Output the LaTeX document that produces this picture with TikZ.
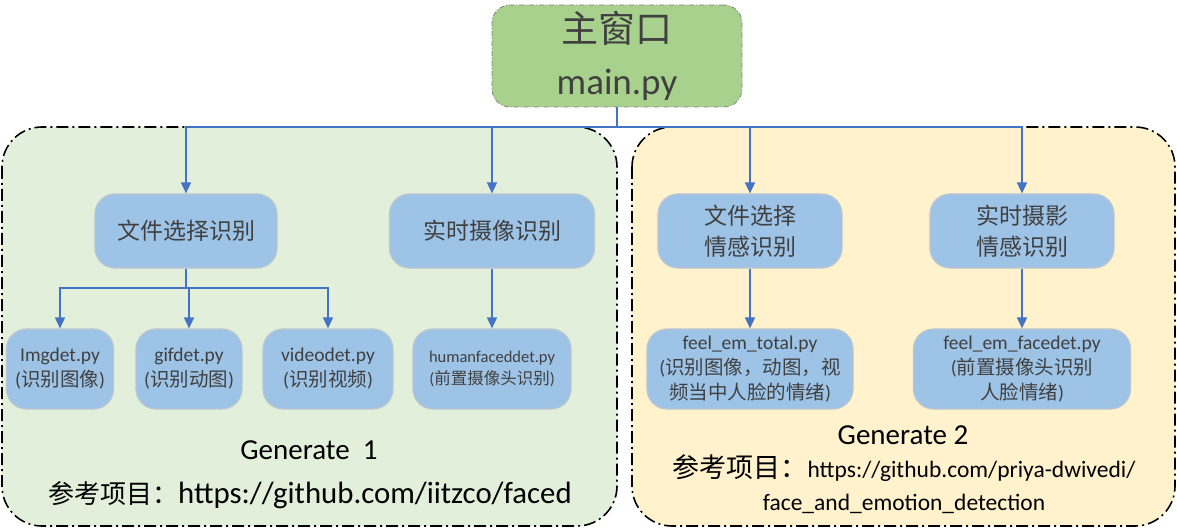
\documentclass[tikz,border=0pt]{standalone}
\usepackage{fontspec}
\setmainfont{Carlito}
\newfontfamily\cjk{Noto Sans CJK SC}
\usetikzlibrary{arrows.meta}
\definecolor{mainfill}{HTML}{A9D18E}
\definecolor{leftfill}{HTML}{E2EFDA}
\definecolor{rightfill}{HTML}{FFF2CC}
\definecolor{boxblue}{HTML}{9DC3E6}
\definecolor{boxedge}{HTML}{BCC6CF}
\definecolor{lineblue}{HTML}{4472C4}
\definecolor{textgray}{HTML}{404040}
\newcommand\zh[1]{{\cjk #1}}
\newcommand\fs[2]{\fontsize{#1}{#2}\selectfont}

\begin{document}
\begin{tikzpicture}[x=1pt,y=-1pt,
    bigbox/.style={line width=1.6pt,dash pattern=on 12pt off 4pt on 2pt off 4pt,rounded corners=40pt},
    mainbox/.style={fill=mainfill,draw=gray,line width=0.8pt,dash pattern=on 5pt off 2pt on 1pt off 2pt,
      rounded corners=18pt,text=textgray,align=center,inner sep=0pt},
    task/.style={fill=boxblue,draw=boxedge,line width=1.2pt,rounded corners=20pt,text=textgray,
      align=center,inner sep=0pt,minimum height=74pt,font=\fs{23}{31}},
    script/.style={task,minimum height=80pt,font=\fs{19.5}{25}},
    flow/.style={draw=lineblue,line width=1.6pt,-{Triangle[length=11pt,width=10pt]}}]
  \useasboundingbox (0,0) rectangle (1177,529);
  \draw[bigbox,fill=leftfill] (2,127) rectangle (617,526);
  \draw[bigbox,fill=rightfill] (632,127) rectangle (1175,526);
  \node[mainbox,minimum width=250pt,minimum height=102pt,font=\fs{37}{52}] (main) at (617,56)
    {\zh{主窗口}\\main.py};
  \node[task,minimum width=182pt] (pick1) at (186,231) {\zh{文件选择识别}};
  \node[task,minimum width=205pt] (cam1) at (492,231) {\zh{实时摄像识别}};
  \node[task,minimum width=184pt] (pick2) at (750,231) {\zh{文件选择}\\\zh{情感识别}};
  \node[task,minimum width=184pt] (cam2) at (1022,231) {\zh{实时摄影}\\\zh{情感识别}};
  \node[script,minimum width=107pt] (img) at (60,369) {Imgdet.py\\(\zh{识别图像})};
  \node[script,minimum width=106pt] (gif) at (189,369) {gifdet.py\\(\zh{识别动图})};
  \node[script,minimum width=130pt] (video) at (328,369) {videodet.py\\(\zh{识别视频})};
  \node[script,minimum width=158pt,font=\fs{16.5}{22}] (human) at (492,369)
    {humanfaceddet.py\\(\zh{前置摄像头识别})};
  \node[script,minimum width=206pt] (total) at (750,369)
    {feel\_em\_total.py\\(\zh{识别图像，动图，视}\\\zh{频当中人脸的情绪})};
  \node[script,minimum width=217pt] (facedet) at (1022,369)
    {feel\_em\_facedet.py\\(\zh{前置摄像头识别}\\\zh{人脸情绪})};
  % project notes
  \node[anchor=base,font=\fs{29}{35}] (gen1) at (309,459) {Generate\ \ 1};
  \node[anchor=base,font=\fs{30.8}{36}] (ref1) at (310,503)
    {\zh{\fs{26}{36}参考项目：}https://github.com/iitzco/faced};
  \node[anchor=base,font=\fs{29}{35}] (gen2) at (903,444) {Generate 2};
  \node[anchor=base,font=\fs{23.5}{30}] (ref2) at (904,477)
    {\zh{\fs{27}{30}参考项目：}https://github.com/priya-dwivedi/};
  \node[anchor=base,font=\fs{23.5}{30}] (ref3) at (904,510) {face\_and\_emotion\_detection};
  % connectors
  \coordinate (bus) at (617,127);
  \coordinate (fork) at (186,288);
  \draw[flow] (main.south) -- (bus) -| (pick1.north);
  \draw[flow] (main.south) -- (bus) -| (cam1.north);
  \draw[flow] (main.south) -- (bus) -| (pick2.north);
  \draw[flow] (main.south) -- (bus) -| (cam2.north);
  \draw[flow] (pick1.south) -- (fork) -| (img.north);
  \draw[flow] (pick1.south) -- (fork) -| (gif.north);
  \draw[flow] (pick1.south) -- (fork) -| (video.north);
  \draw[flow] (cam1.south) -- (human.north);
  \draw[flow] (pick2.south) -- (total.north);
  \draw[flow] (cam2.south) -- (facedet.north);
\end{tikzpicture}
\end{document}
